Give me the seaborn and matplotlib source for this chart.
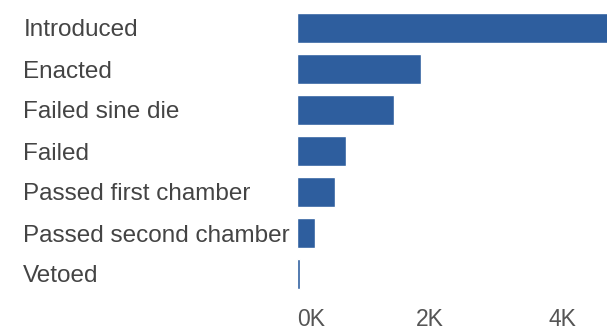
import matplotlib
matplotlib.use('Agg')
import matplotlib.pyplot as plt
import seaborn as sns
import pandas as pd

statuses = ['Introduced', 'Enacted', 'Failed sine die', 'Failed',
            'Passed first chamber', 'Passed second chamber', 'Vetoed']
counts = [5000, 1870, 1460, 740, 575, 270, 40]
tick_vals = [0, 2000, 4000]
tick_labels = ['0K', '2K', '4K']

df = pd.DataFrame({'status': statuses, 'count': counts})

sns.set_theme(style='white')
plt.rcParams['font.family'] = ['Liberation Sans', 'DejaVu Sans']

fig = plt.figure(figsize=(6.07, 3.33), dpi=100)
ax = fig.add_axes([297 / 607, 1 - 294.5 / 333, 1 - 297 / 607, 287 / 333])

sns.barplot(data=df, y='status', x='count', orient='h', color='#2e5e9e',
            saturation=1, width=0.73, ax=ax)

ax.set_xlim(0, 4680)
ax.set_ylim(6.5, -0.5)
ax.set_xlabel('')
ax.set_ylabel('')
sns.despine(ax=ax, left=True, bottom=True)

ax.set_xticks(tick_vals)
ax.set_xticklabels(tick_labels)
ax.get_xticklabels()[0].set_ha('left')
ax.get_xticklabels()[0].set_x(40)
ax.tick_params(axis='x', length=0, pad=10, labelsize=16.5, labelcolor='#555555')
ax.tick_params(axis='y', length=0, pad=197, labelsize=17.5, labelcolor='#444444')
for t in ax.get_yticklabels():
    t.set_ha('left')

fig.savefig('out.png', dpi=100)
